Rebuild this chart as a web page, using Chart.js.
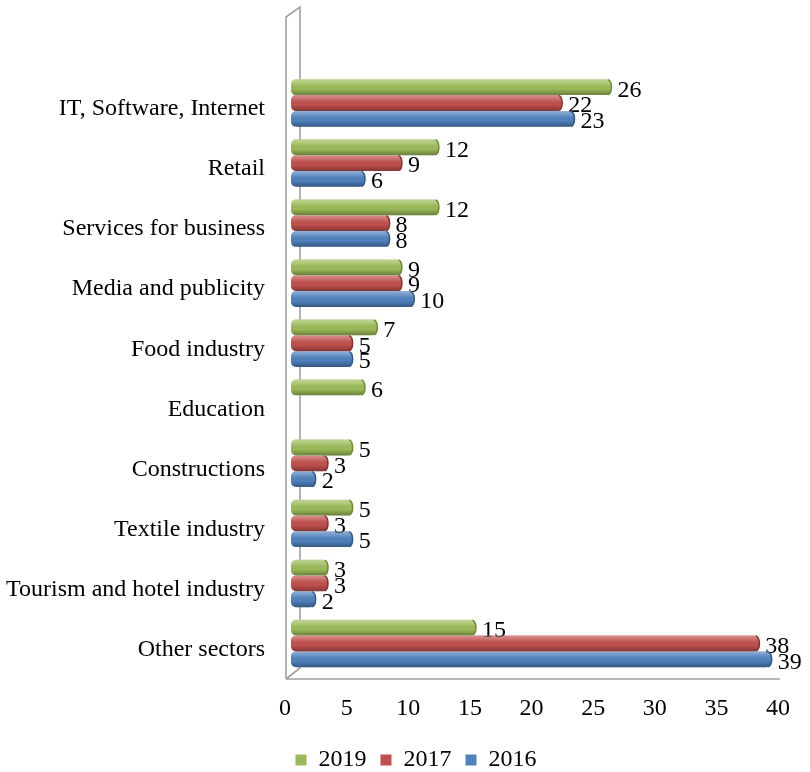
<!DOCTYPE html>
<html>
<head>
<meta charset="utf-8">
<script src="https://cdn.jsdelivr.net/npm/chart.js@4.4.1/dist/chart.umd.min.js"></script>
<style>
  body { margin: 0; background: #fff; }
</style>
</head>
<body>
<canvas id="myChart" width="810" height="772"></canvas>
<script>
// categories, top to bottom
var sectors = ["IT, Software, Internet", "Retail", "Services for business", "Media and publicity",
  "Food industry", "Education", "Constructions", "Textile industry",
  "Tourism and hotel industry", "Other sectors"];

var years = ["2019", "2017", "2016"];

var values2019 = [26, 12, 12, 9, 7, 6, 5, 5, 3, 15];
var values2017 = [22, 9, 8, 9, 5, null, 3, 3, 3, 38];
var values2016 = [23, 6, 8, 10, 5, null, 2, 5, 2, 39];

// x axis ticks
var xMin = 0, xMax = 40, xStep = 5;

var green = "#9bbb59", red = "#c0504d", blue = "#4f81bd";
var capDark = ["#6f8c33", "#8f2f2c", "#2f5a8f"];

var FONT = "Liberation Serif";

// 3d frame (walls + floor) drawn behind the bars, shading + value labels on top
var framePlugin = {
  id: "frame3d",
  afterLayout: function(chart) {
    // legend sits a bit right of the canvas centre
    chart.legend.left += 24;
    chart.legend.right += 24;
  },
  beforeDatasetsDraw: function(chart) {
    var a = chart.chartArea;
    var c = chart.ctx;
    var fx = a.left - 5, bx = a.left + 9;
    var floorY = a.bottom + 5.5;
    c.save();
    c.strokeStyle = "#a0a0a0";
    c.lineWidth = 1.6;
    c.beginPath();
    c.moveTo(fx, floorY);
    c.lineTo(fx, a.top - 56);
    c.lineTo(bx, a.top - 66);
    c.lineTo(bx, floorY - 11);
    c.lineTo(fx, floorY);
    c.moveTo(fx, floorY);
    c.lineTo(a.right - 4, floorY);
    c.stroke();
    c.restore();
  },
  afterDatasetsDraw: function(chart) {
    var c = chart.ctx;
    c.save();
    chart.data.datasets.forEach(function(ds, di) {
      var meta = chart.getDatasetMeta(di);
      meta.data.forEach(function(bar, i) {
        var v = ds.data[i];
        if (v === null || v === undefined) return;
        var p = bar.getProps(["x", "y", "base", "height"], true);
        var top = p.y - p.height / 2;
        // cylinder shading
        var g = c.createLinearGradient(0, top, 0, top + p.height);
        g.addColorStop(0, "rgba(255,255,255,0.38)");
        g.addColorStop(0.3, "rgba(255,255,255,0.12)");
        g.addColorStop(0.6, "rgba(0,0,0,0)");
        g.addColorStop(1, "rgba(0,0,0,0.32)");
        c.fillStyle = g;
        c.beginPath();
        c.roundRect(p.base, top, p.x - p.base, p.height, 5);
        c.fill();
        // end cap
        c.beginPath();
        c.ellipse(p.x - 3.5, p.y, 3.5, p.height / 2 - 0.5, 0, -Math.PI / 2, Math.PI / 2);
        c.strokeStyle = capDark[di];
        c.lineWidth = 1.5;
        c.stroke();
        // value label
        c.fillStyle = "#000";
        c.font = "24px '" + FONT + "'";
        c.textAlign = "left";
        c.textBaseline = "middle";
        c.fillText(String(v), p.x + 6, p.y + 3);
      });
    });
    c.restore();
  }
};

var ctx = document.getElementById("myChart").getContext("2d");

var chart = new Chart(ctx, {
  type: "bar",
  data: {
    labels: sectors,
    datasets: [
      { label: years[0], data: values2019, backgroundColor: green },
      { label: years[1], data: values2017, backgroundColor: red },
      { label: years[2], data: values2016, backgroundColor: blue }
    ]
  },
  options: {
    indexAxis: "y",
    responsive: false,
    animation: false,
    events: [],
    datasets: {
      bar: {
        barPercentage: 1,
        categoryPercentage: 0.79,
        borderRadius: 5,
        borderSkipped: false
      }
    },
    layout: {
      padding: { left: 0, top: 73, right: 26, bottom: -10 }
    },
    scales: {
      x: {
        min: xMin,
        max: xMax,
        grid: { display: false, drawTicks: false },
        border: { display: false },
        ticks: {
          stepSize: xStep,
          color: "#000",
          padding: 21,
          labelOffset: -6,
          maxRotation: 0,
          font: { family: FONT, size: 24 }
        },
        afterFit: function(s) {
          s.height = 60.5;
          s.paddingLeft = 0;
          s.paddingRight = 0;
        }
      },
      y: {
        grid: { display: false, drawTicks: false },
        border: { display: false },
        ticks: {
          color: "#000",
          padding: 26,
          labelOffset: 6,
          autoSkip: false,
          font: { family: FONT, size: 24 }
        },
        afterFit: function(s) { s.width = 291; }
      }
    },
    plugins: {
      tooltip: { enabled: false },
      legend: {
        position: "bottom",
        labels: {
          color: "#000",
          boxWidth: 11,
          boxHeight: 11,
          padding: 14,
          font: { family: FONT, size: 24 }
        }
      }
    }
  },
  plugins: [framePlugin]
});
</script>
</body>
</html>
